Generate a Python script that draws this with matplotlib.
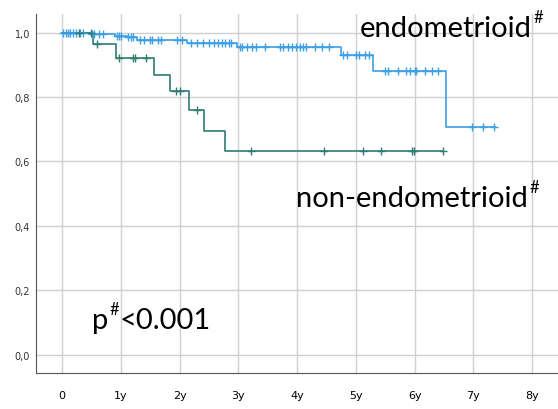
import numpy as np
import matplotlib.pyplot as plt

# Kaplan-Meier steps (years, survival)
endo_t = [0, 0.46, 0.9, 1.1, 1.27, 2.12, 2.98, 4.74, 5.29, 6.53]
endo_s = [1.0, 0.995, 0.99, 0.985, 0.977, 0.969, 0.955, 0.929, 0.881, 0.706]
endo_end = 7.36
endo_cens = [0.02, 0.06, 0.1, 0.14, 0.18, 0.24, 0.3, 0.36, 0.5, 0.55, 0.62, 0.7,
             0.93, 0.97, 1.0, 1.12, 1.17, 1.21, 1.33, 1.4, 1.5, 1.53, 1.63, 1.68,
             1.95, 2.04, 2.2, 2.3, 2.4, 2.5, 2.58, 2.65, 2.72, 2.78, 2.84, 2.88,
             3.02, 3.06, 3.15, 3.23, 3.3, 3.45, 3.7, 3.76, 3.85, 3.92, 3.98, 4.05,
             4.1, 4.15, 4.3, 4.42, 4.55, 4.78, 4.85, 5.0, 5.05, 5.15, 5.22, 5.5,
             5.55, 5.72, 5.85, 5.92, 6.0, 6.03, 6.18, 6.3, 6.4, 6.98, 7.17, 7.35]

non_t = [0, 0.52, 0.91, 1.56, 1.84, 2.16, 2.42, 2.78]
non_s = [1.0, 0.963, 0.92, 0.867, 0.818, 0.759, 0.695, 0.632]
non_end = 6.49
non_cens = [0.29, 0.49, 0.6, 0.97, 1.2, 1.24, 1.43, 1.93, 2.01, 2.29, 3.22,
            4.45, 5.12, 5.43, 5.96, 5.99, 6.48]

xticks = [0, 1, 2, 3, 4, 5, 6, 7, 8]
xlabels = ["0", "1y", "2y", "3y", "4y", "5y", "6y", "7y", "8y"]
yticks = [0.0, 0.2, 0.4, 0.6, 0.8, 1.0]
ylabels = ["0,0", "0,2", "0,4", "0,6", "0,8", "1,0"]

blue = "#3d9fe6"
green = "#2e7d74"

fig = plt.figure(figsize=(5.58, 4.1), dpi=100)
ax = fig.add_axes([0.064, 0.088, 0.936, 0.875])


def km(t, s, end, cens, color):
    xs = list(t) + [end]
    ys = list(s) + [s[-1]]
    ax.step(xs, ys, where="post", color=color, lw=1.2, zorder=3)
    idx = np.searchsorted(t, cens, side="right") - 1
    cy = np.array(s)[idx]
    ax.plot(cens, cy, ls="none", marker="+", ms=6, mew=1.0, color=color, zorder=4)


km(endo_t, endo_s, endo_end, endo_cens, blue)
km(non_t, non_s, non_end, non_cens, green)

ax.set_xlim(-0.45, 8.44)
ax.set_ylim(-0.056, 1.057)
ax.set_xticks(xticks)
ax.set_xticklabels(xlabels, fontsize=8, family="DejaVu Sans")
ax.set_yticks(yticks)
ax.set_yticklabels(ylabels, fontsize=7, family="DejaVu Sans", color="#333333")
ax.tick_params(length=0, pad=12)
ax.tick_params(axis="y", pad=4)
ax.grid(True, color="#d0d0d0", lw=1)
ax.set_axisbelow(True)
for side in ["top", "right"]:
    ax.spines[side].set_visible(False)
for side in ["left", "bottom"]:
    ax.spines[side].set_color("#555555")

font = "Lato"
size = 21


def label(x, y, main):
    t = fig.text(x / 558, 1 - y / 410, main, fontsize=size, family=font)
    h = ax.annotate("#", xy=(1, 0.62), xycoords=t, xytext=(1, 0),
                    textcoords="offset points", fontsize=12, family=font,
                    va="bottom")
    return t, h


label(360, 37, "endometrioid")
label(296, 207, "non-endometrioid")
pt, ph = label(92, 329, "p")
ax.annotate("<0.001", xy=(1, 0), xycoords=(ph, pt), xytext=(0.5, 0),
            textcoords="offset points", fontsize=size, family=font, va="bottom")

fig.savefig("out.png", dpi=100)
